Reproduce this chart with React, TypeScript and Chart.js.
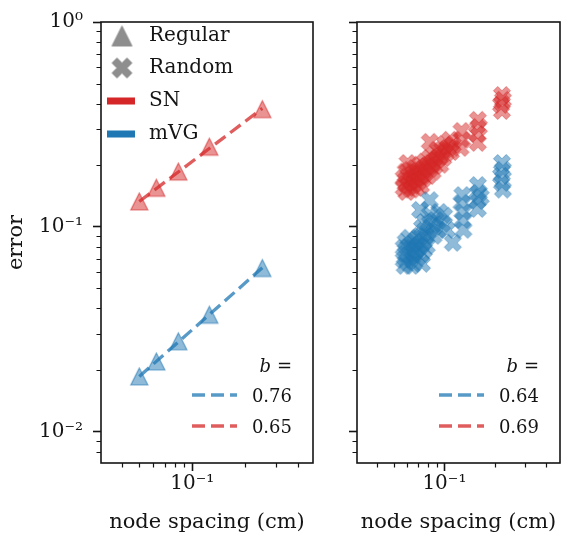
import { useEffect, useRef } from 'react';
import { Chart, registerables } from 'chart.js';

Chart.register(...registerables);

const FONT = "'DejaVu Serif', serif";
const INK = '#141414';
const RED = '214, 39, 40';
const BLUE = '31, 119, 180';

// Regular grids: node spacing (cm) and error
const REG_SPACING = [0.05, 0.0625, 0.0833, 0.125, 0.25];
const REG_SN = [0.133, 0.155, 0.186, 0.246, 0.375];
const REG_MVG = [0.0186, 0.022, 0.0276, 0.0372, 0.0629];

// Power-law fit end points, error = a * h^b
const FIT_SPACING = [0.05, 0.25];
const FIT_SN = [0.133, 0.3785];
const FIT_MVG = [0.0186, 0.0631];

// Random meshes, SN
const RND_SN_SPACING = [
  0.0573, 0.0573, 0.0589, 0.0589, 0.0596, 0.0612, 0.0612, 0.0629, 0.0629, 0.0637,
  0.0654, 0.0654, 0.0671, 0.0671, 0.068, 0.0698, 0.0698, 0.0717, 0.0717, 0.0726,
  0.0746, 0.0746, 0.0766, 0.0766, 0.0786, 0.0796, 0.0818, 0.0818, 0.0839, 0.0851,
  0.0873, 0.0873, 0.0897, 0.0909, 0.0933, 0.0945, 0.097, 0.0983, 0.1009, 0.1023,
  0.105, 0.1078, 0.1092, 0.1121, 0.0604, 0.0818, 0.1262, 0.1279, 0.1246, 0.1579,
  0.16, 0.1558, 0.1579, 0.2193, 0.2223, 0.2165, 0.2193,
];
const RND_SN_ERROR = [
  0.173, 0.155, 0.186, 0.162, 0.148, 0.177, 0.159, 0.19, 0.168, 0.152,
  0.181, 0.162, 0.194, 0.172, 0.155, 0.186, 0.166, 0.201, 0.177, 0.159,
  0.19, 0.172, 0.208, 0.183, 0.198, 0.177, 0.217, 0.192, 0.205, 0.186,
  0.225, 0.198, 0.212, 0.238, 0.22, 0.201, 0.238, 0.217, 0.254, 0.23,
  0.243, 0.266, 0.232, 0.251, 0.205, 0.26, 0.294, 0.266, 0.243, 0.333,
  0.3075, 0.284, 0.257, 0.44, 0.417, 0.394, 0.368,
];

// Random meshes, mVG
const RND_MVG_SPACING = [
  0.0573, 0.0573, 0.0581, 0.0589, 0.0589, 0.0604, 0.0612, 0.062, 0.0629, 0.0637,
  0.0645, 0.0654, 0.0663, 0.068, 0.068, 0.0689, 0.0708, 0.0717, 0.0726, 0.0736,
  0.0746, 0.0756, 0.0776, 0.0786, 0.0736, 0.0766, 0.0796, 0.0818, 0.0839, 0.0862,
  0.0885, 0.0909, 0.0933, 0.097, 0.0996, 0.1036, 0.0717, 0.0818, 0.1279, 0.1262,
  0.1296, 0.1279, 0.1296, 0.1121, 0.1579, 0.16, 0.1558, 0.1579, 0.1642, 0.2193,
  0.2223, 0.2165, 0.2193, 0.2223,
];
const RND_MVG_ERROR = [
  0.079, 0.069, 0.0645, 0.0845, 0.0738, 0.0675, 0.0799, 0.0884, 0.0722, 0.0645,
  0.0826, 0.0755, 0.0675, 0.0864, 0.0772, 0.0706, 0.0808, 0.0904, 0.0738, 0.066,
  0.0845, 0.0772, 0.0904, 0.0808, 0.0988, 0.1058, 0.0945, 0.1146, 0.1011, 0.0904,
  0.108, 0.0967, 0.1183, 0.1034, 0.1132, 0.0967, 0.121, 0.135, 0.143, 0.131,
  0.1183, 0.108, 0.0967, 0.0836, 0.16, 0.1465, 0.1338, 0.1224, 0.14, 0.205,
  0.19, 0.1773, 0.164, 0.152,
];

const LEGEND_LABELS = ['Regular', 'Random', 'SN', 'mVG'];
const EXPONENTS_LEFT = ['0.76', '0.65'];
const EXPONENTS_RIGHT = ['0.64', '0.69'];

const X_TICKS = [0.1];
const X_TICK_LABELS = ['10⁻¹'];
const Y_TICKS = [0.01, 0.1, 1];
const Y_TICK_LABELS = ['10⁻²', '10⁻¹', '10⁰'];
const X_MIN = 0.0303;
const X_MAX = 0.485;
const Y_MIN = 0.00703;
const Y_MAX = 1;

type MarkerKind = 'triangle' | 'x';

function makeMarker(kind: MarkerKind, size: number, fill: string, edge: string, lw: number) {
  const d = Math.ceil(size + lw + 4);
  const c = document.createElement('canvas');
  c.width = d;
  c.height = d;
  const g = c.getContext('2d')!;
  g.translate(d / 2, d / 2);
  const s = size / 2;
  g.beginPath();
  if (kind === 'triangle') {
    g.moveTo(0, -s);
    g.lineTo(-s, s);
    g.lineTo(s, s);
  } else {
    const pts = [
      [-1, -2], [0, -1], [1, -2], [2, -1], [1, 0], [2, 1],
      [1, 2], [0, 1], [-1, 2], [-2, 1], [-1, 0], [-2, -1],
    ];
    pts.forEach(([px, py], i) => {
      if (i === 0) g.moveTo((px * s) / 2, (py * s) / 2);
      else g.lineTo((px * s) / 2, (py * s) / 2);
    });
  }
  g.closePath();
  g.fillStyle = fill;
  g.fill();
  g.lineWidth = lw;
  g.strokeStyle = edge;
  g.lineJoin = 'miter';
  g.stroke();
  return c;
}

const pairs = (xs: number[], ys: number[]) => xs.map((x, i) => ({ x, y: ys[i] }));

function minorValues(lo: number, hi: number) {
  const out: number[] = [];
  for (let e = -3; e <= 0; e++) {
    for (let m = 2; m <= 9; m++) {
      const v = m * Math.pow(10, e);
      if (v > lo && v < hi) out.push(v);
    }
  }
  return out;
}

// Spines and minor ticks, drawn on top of the chart area
const framePlugin = {
  id: 'frame',
  afterDraw(chart: any) {
    const { ctx, chartArea: a, scales } = chart;
    ctx.save();
    ctx.strokeStyle = INK;
    ctx.lineWidth = 1.2;
    ctx.beginPath();
    for (const v of minorValues(X_MIN, X_MAX)) {
      const px = Math.round(scales.x.getPixelForValue(v)) + 0.5;
      ctx.moveTo(px, a.bottom);
      ctx.lineTo(px, a.bottom + 4.5);
    }
    for (const v of minorValues(Y_MIN, Y_MAX)) {
      const py = Math.round(scales.y.getPixelForValue(v)) + 0.5;
      ctx.moveTo(a.left, py);
      ctx.lineTo(a.left - 4.5, py);
    }
    ctx.stroke();
    ctx.lineWidth = 1.6;
    ctx.strokeRect(a.left, a.top, a.right - a.left, a.bottom - a.top);
    ctx.restore();
  },
};

function drawExponentLegend(ctx: CanvasRenderingContext2D, a: any, labels: string[]) {
  const R = a.right - 21;
  const colors = [BLUE, RED];
  ctx.save();
  ctx.fillStyle = INK;
  ctx.textBaseline = 'middle';
  ctx.textAlign = 'right';
  ctx.font = `18px ${FONT}`;
  const yB = a.bottom - 96;
  ctx.fillText('=', R, yB);
  const eqW = ctx.measureText('=').width;
  ctx.font = `italic 18px ${FONT}`;
  ctx.fillText('b', R - eqW - 6, yB);
  labels.forEach((lab, i) => {
    const y = a.bottom - 66 + i * 31;
    ctx.font = `18px ${FONT}`;
    ctx.fillStyle = INK;
    ctx.fillText(lab, R, y);
    ctx.strokeStyle = `rgba(${colors[i]}, 0.75)`;
    ctx.lineWidth = 3.3;
    ctx.setLineDash([13, 6]);
    ctx.beginPath();
    ctx.moveTo(a.right - 121, y - 2);
    ctx.lineTo(a.right - 76, y - 2);
    ctx.stroke();
    ctx.setLineDash([]);
  });
  ctx.restore();
}

function axisOptions(showYLabels: boolean, yWidth: number) {
  return {
    x: {
      type: 'logarithmic' as const,
      min: X_MIN,
      max: X_MAX,
      afterFit: (s: any) => {
        s.height = 74;
      },
      afterBuildTicks: (s: any) => {
        s.ticks = X_TICKS.map((value) => ({ value }));
      },
      ticks: {
        autoSkip: false,
        maxRotation: 0,
        padding: 1,
        color: INK,
        font: { family: FONT, size: 20 },
        callback: (v: any) => {
          const i = X_TICKS.findIndex((t) => Math.abs(t - Number(v)) < 1e-9);
          return i >= 0 ? X_TICK_LABELS[i] : '';
        },
      },
      grid: {
        display: true,
        drawOnChartArea: false,
        drawTicks: true,
        tickLength: 8,
        tickWidth: 1.6,
        tickColor: INK,
        color: INK,
      },
      border: { display: false },
      title: {
        display: true,
        text: 'node spacing (cm)',
        color: INK,
        font: { family: FONT, size: 21 },
        padding: { top: 4, bottom: 2 },
      },
    },
    y: {
      type: 'logarithmic' as const,
      min: Y_MIN,
      max: Y_MAX,
      afterFit: (s: any) => {
        s.width = yWidth;
      },
      afterBuildTicks: (s: any) => {
        s.ticks = Y_TICKS.map((value) => ({ value }));
      },
      ticks: {
        autoSkip: false,
        padding: 10,
        color: INK,
        font: { family: FONT, size: 20 },
        callback: (v: any) => {
          if (!showYLabels) return '';
          const i = Y_TICKS.findIndex((t) => Math.abs(t - Number(v)) < 1e-9);
          return i >= 0 ? Y_TICK_LABELS[i] : '';
        },
      },
      grid: {
        display: true,
        drawOnChartArea: false,
        drawTicks: true,
        tickLength: 8,
        tickWidth: 1.6,
        tickColor: INK,
        color: INK,
      },
      border: { display: false },
      title: {
        display: showYLabels,
        text: 'error',
        color: INK,
        font: { family: FONT, size: 21 },
        padding: { top: 4, bottom: 4 },
      },
    },
  };
}

export default function App() {
  const leftRef = useRef<HTMLCanvasElement>(null);
  const rightRef = useRef<HTMLCanvasElement>(null);

  useEffect(() => {
    const triRed = makeMarker('triangle', 17, `rgba(${RED}, 0.5)`, `rgba(${RED}, 0.6)`, 1.2);
    const triBlue = makeMarker('triangle', 17, `rgba(${BLUE}, 0.5)`, `rgba(${BLUE}, 0.6)`, 1.2);
    const xRed = makeMarker('x', 17, `rgba(${RED}, 0.5)`, `rgba(${RED}, 0.5)`, 1);
    const xBlue = makeMarker('x', 17, `rgba(${BLUE}, 0.5)`, `rgba(${BLUE}, 0.5)`, 1);
    const triGray = makeMarker('triangle', 20, '#8e8e8e', '#8e8e8e', 1);
    const xGray = makeMarker('x', 20, '#8e8e8e', '#8e8e8e', 1);

    const topLegend = {
      id: 'topLegend',
      afterDraw(chart: any) {
        const { ctx, chartArea: a } = chart;
        ctx.save();
        const mx = a.left + 21;
        const rows = [a.top + 14, a.top + 46, a.top + 79, a.top + 112];
        ctx.drawImage(triGray, mx - triGray.width / 2, rows[0] - triGray.height / 2);
        ctx.drawImage(xGray, mx - xGray.width / 2, rows[1] - xGray.height / 2);
        ctx.fillStyle = `rgb(${RED})`;
        ctx.fillRect(a.left + 6, rows[2] - 3.5, 28, 7);
        ctx.fillStyle = `rgb(${BLUE})`;
        ctx.fillRect(a.left + 6, rows[3] - 3.5, 28, 7);
        ctx.fillStyle = INK;
        ctx.font = `20px ${FONT}`;
        ctx.textAlign = 'left';
        ctx.textBaseline = 'middle';
        LEGEND_LABELS.forEach((lab, i) => ctx.fillText(lab, a.left + 48, rows[i]));
        drawExponentLegend(ctx, a, EXPONENTS_LEFT);
        ctx.restore();
      },
    };

    const rightLegend = {
      id: 'rightLegend',
      afterDraw(chart: any) {
        drawExponentLegend(chart.ctx, chart.chartArea, EXPONENTS_RIGHT);
      },
    };

    const left = new Chart(leftRef.current!, {
      type: 'scatter',
      data: {
        datasets: [
          {
            data: pairs(FIT_SPACING, FIT_MVG),
            showLine: true,
            borderColor: `rgba(${BLUE}, 0.75)`,
            borderWidth: 3.3,
            borderDash: [13, 6],
            pointRadius: 0,
          },
          {
            data: pairs(FIT_SPACING, FIT_SN),
            showLine: true,
            borderColor: `rgba(${RED}, 0.75)`,
            borderWidth: 3.3,
            borderDash: [13, 6],
            pointRadius: 0,
          },
          { data: pairs(REG_SPACING, REG_MVG), pointStyle: triBlue, pointRadius: 8 },
          { data: pairs(REG_SPACING, REG_SN), pointStyle: triRed, pointRadius: 8 },
        ],
      },
      options: {
        responsive: false,
        animation: false,
        events: [],
        layout: { padding: { left: 0, top: 22, right: 22, bottom: 0 } },
        plugins: { legend: { display: false }, tooltip: { enabled: false } },
        scales: axisOptions(true, 101) as any,
      },
      plugins: [framePlugin, topLegend],
    });

    const right = new Chart(rightRef.current!, {
      type: 'scatter',
      data: {
        datasets: [
          { data: pairs(RND_MVG_SPACING, RND_MVG_ERROR), pointStyle: xBlue, pointRadius: 8 },
          { data: pairs(RND_SN_SPACING, RND_SN_ERROR), pointStyle: xRed, pointRadius: 8 },
        ],
      },
      options: {
        responsive: false,
        animation: false,
        events: [],
        layout: { padding: { left: 0, top: 22, right: 0, bottom: 0 } },
        plugins: { legend: { display: false }, tooltip: { enabled: false } },
        scales: axisOptions(false, 22) as any,
      },
      plugins: [framePlugin, rightLegend],
    });

    return () => {
      left.destroy();
      right.destroy();
    };
  }, []);

  return (
    <div
      style={{
        position: 'fixed',
        left: 0,
        top: 0,
        width: 568,
        height: 537,
        overflow: 'hidden',
        background: '#ffffff',
      }}
    >
      <canvas ref={leftRef} width={335} height={537} style={{ position: 'absolute', left: 0, top: 0 }} />
      <canvas ref={rightRef} width={234} height={537} style={{ position: 'absolute', left: 335, top: 0 }} />
    </div>
  );
}
